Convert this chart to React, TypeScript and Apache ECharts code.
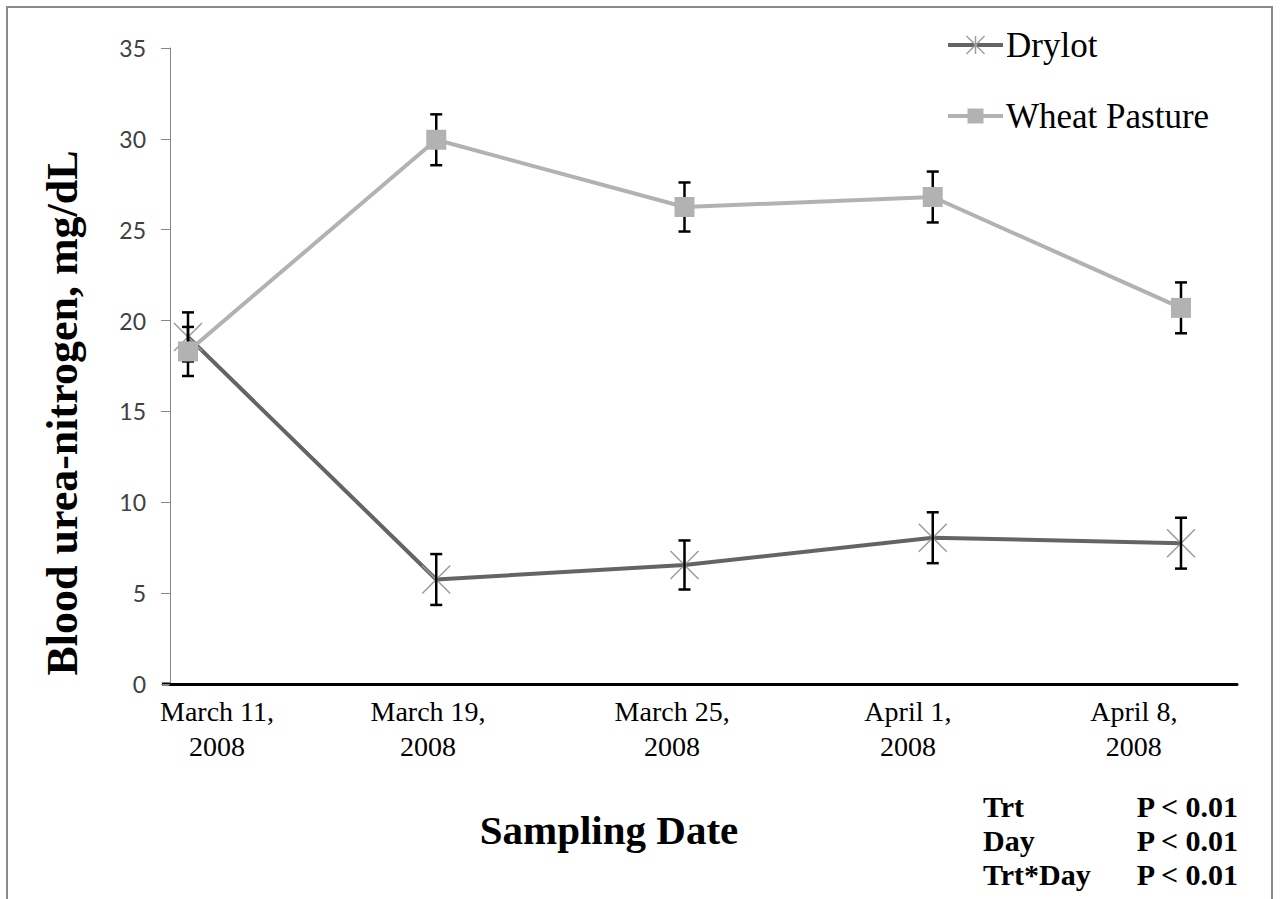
import React, { useEffect, useRef } from "react";
import * as echarts from "echarts";

const categories = ["March 11,\n2008", "March 19,\n2008", "March 25,\n2008", "April 1,\n2008", "April 8,\n2008"];
const drylotMean = [19.1, 5.75, 6.55, 8.05, 7.75];
const drylotSE = [1.35, 1.4, 1.35, 1.4, 1.4];
const wheatMean = [18.3, 29.95, 26.25, 26.8, 20.7];
const wheatSE = [1.35, 1.4, 1.35, 1.4, 1.4];
const yMin = 0;
const yMax = 35;
const yStep = 5;
const statLabels = ["Trt", "Day", "Trt*Day"];
const statValues = ["P < 0.01", "P < 0.01", "P < 0.01"];
const seriesNames = ["Drylot", "Wheat Pasture"];
const xTitle = "Sampling Date";
const yTitle = "Blood urea-nitrogen, mg/dL";

// layout: where the category labels sit along the x axis (the reference's labels are not centred on the points)
const labelPos = [0.117, 0.967, 1.95, 2.9, 3.81];

const STAR = "path://M0,0L28,28M28,0L0,28M14,0L14,28";
const SERIF = "Liberation Serif";

const DRY_LINE = "#646464";
const DRY_MARK = "#9c9c9c";
const WHEAT = "#b2b2b2";

function errorSeries(mean: number[], se: number[]) {
  return {
    type: "custom",
    silent: true,
    z: 3,
    data: mean.map((m, i) => [i, m - se[i], m + se[i]]),
    encode: { x: 0, y: [1, 2] },
    renderItem: (_p: any, api: any) => {
      const x = api.value(0);
      const lo = api.coord([x, api.value(1)]);
      const hi = api.coord([x, api.value(2)]);
      const w = 6;
      const st = { stroke: "#000", lineWidth: 2.5 };
      return {
        type: "group",
        children: [
          { type: "line", shape: { x1: lo[0], y1: lo[1], x2: hi[0], y2: hi[1] }, style: st },
          { type: "line", shape: { x1: lo[0] - w, y1: lo[1], x2: lo[0] + w, y2: lo[1] }, style: st },
          { type: "line", shape: { x1: hi[0] - w, y1: hi[1], x2: hi[0] + w, y2: hi[1] }, style: st },
        ],
      };
    },
  };
}

function legendGraphics() {
  const x0 = 948;
  const x1 = 1003;
  const cx = (x0 + x1) / 2;
  const tx = 1006;
  const y1 = 45;
  const y2 = 116;
  const r = 9;
  const starSt = { stroke: DRY_MARK, lineWidth: 1.5 };
  const txt = (t: string, y: number) => ({
    type: "text",
    x: tx,
    y,
    style: { text: t, fontFamily: SERIF, fontSize: 35, fill: "#000", align: "left", verticalAlign: "middle" },
  });
  return [
    { type: "line", shape: { x1: x0, y1, x2: x1, y2: y1 }, style: { stroke: DRY_LINE, lineWidth: 4 } },
    { type: "line", shape: { x1: cx - r, y1: y1 - r, x2: cx + r, y2: y1 + r }, style: starSt },
    { type: "line", shape: { x1: cx - r, y1: y1 + r, x2: cx + r, y2: y1 - r }, style: starSt },
    { type: "line", shape: { x1: cx, y1: y1 - r, x2: cx, y2: y1 + r }, style: starSt },
    txt(seriesNames[0], y1),
    { type: "line", shape: { x1: x0, y1: y2, x2: x1, y2: y2 }, style: { stroke: WHEAT, lineWidth: 4 } },
    { type: "rect", shape: { x: cx - 8, y: y2 - 7.5, width: 16, height: 15 }, style: { fill: WHEAT } },
    txt(seriesNames[1], y2),
  ];
}

export default function App() {
  const ref = useRef<HTMLDivElement>(null);
  useEffect(() => {
    if (!ref.current) return;
    const chart = echarts.init(ref.current, undefined, { renderer: "svg" });
    const statGraphics: any[] = [];
    statLabels.forEach((s, i) => {
      const y = 806 + i * 34;
      statGraphics.push({
        type: "text",
        x: 983,
        y,
        style: { text: s, fontFamily: SERIF, fontWeight: "bold", fontSize: 30, fill: "#000", align: "left", verticalAlign: "middle" },
      });
      statGraphics.push({
        type: "text",
        x: 1238,
        y,
        style: { text: statValues[i], fontFamily: SERIF, fontWeight: "bold", fontSize: 30, fill: "#000", align: "right", verticalAlign: "middle" },
      });
    });
    chart.setOption({
      animation: false,
      backgroundColor: "#fff",
      textStyle: { fontFamily: SERIF },
      grid: { left: 170, right: 45, top: 48, bottom: 215, containLabel: false },
      xAxis: {
        type: "value",
        min: -0.0725,
        max: 4.2256,
        splitLine: { show: false },
        axisTick: { show: false },
        axisLine: { show: true, onZero: false, lineStyle: { color: "#000", width: 3 } },
        axisLabel: {
          customValues: labelPos,
          formatter: (v: number) => {
            let best = 0;
            labelPos.forEach((p, i) => {
              if (Math.abs(p - v) < Math.abs(labelPos[best] - v)) best = i;
            });
            return categories[best];
          },
          fontFamily: SERIF,
          fontSize: 28,
          lineHeight: 35,
          color: "#000",
          margin: 10,
        },
      },
      yAxis: {
        type: "value",
        min: yMin,
        max: yMax,
        interval: yStep,
        splitLine: { show: false },
        axisLine: { show: true, onZero: false, lineStyle: { color: "#868686", width: 1 } },
        axisTick: { show: true, length: 9, lineStyle: { color: "#868686" } },
        axisLabel: { fontFamily: "Lato", fontSize: 23, color: "#404040", margin: 24 },
      },
      graphic: [
        {
          type: "rect",
          shape: { x: 7, y: 7, width: 1265, height: 930 },
          style: { fill: "none", stroke: "#8a8a8a", lineWidth: 2 },
          silent: true,
        },
        {
          type: "line",
          shape: { x1: 162, y1: 684, x2: 171, y2: 684 },
          style: { stroke: "#000", lineWidth: 3 },
          silent: true,
        },
        {
          type: "text",
          x: 62,
          y: 413,
          rotation: Math.PI / 2,
          style: { text: yTitle, fontFamily: SERIF, fontWeight: "bold", fontSize: 44, fill: "#000", align: "center", verticalAlign: "middle" },
        },
        {
          type: "text",
          x: 609,
          y: 830,
          style: { text: xTitle, fontFamily: SERIF, fontWeight: "bold", fontSize: 41, fill: "#000", align: "center", verticalAlign: "middle" },
        },
        ...legendGraphics(),
        ...statGraphics,
      ],
      series: [
        {
          name: seriesNames[0],
          type: "line",
          z: 2,
          data: drylotMean.map((v, i) => [i, v]),
          symbol: STAR,
          symbolSize: 28,
          lineStyle: { color: DRY_LINE, width: 4 },
          itemStyle: { color: DRY_MARK, borderColor: DRY_MARK, borderWidth: 1.5 },
        },
        {
          name: seriesNames[1],
          type: "line",
          z: 4,
          data: wheatMean.map((v, i) => [i, v]),
          symbol: "rect",
          symbolSize: 20,
          lineStyle: { color: WHEAT, width: 4 },
          itemStyle: { color: WHEAT },
        },
        errorSeries(drylotMean, drylotSE),
        errorSeries(wheatMean, wheatSE),
      ],
    });
    return () => chart.dispose();
  }, []);
  return <div ref={ref} style={{ position: "fixed", left: 0, top: 0, width: 1282, height: 899 }} />;
}
